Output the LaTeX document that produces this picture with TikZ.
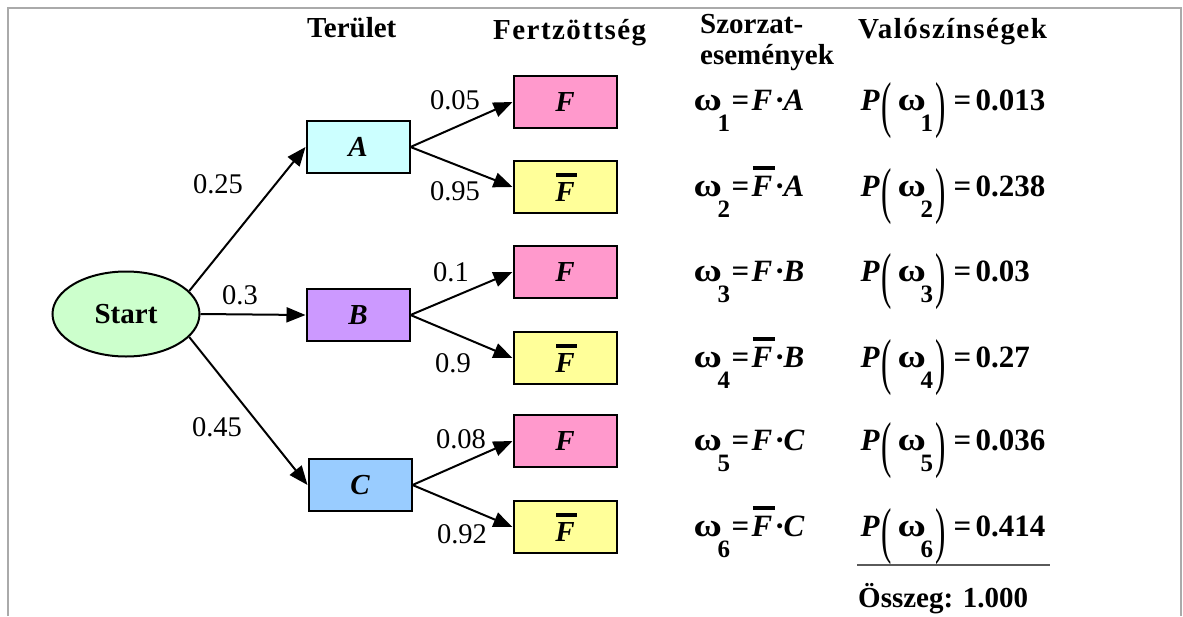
\documentclass[tikz,border=0pt]{standalone}
\usepackage{fontspec}
\setmainfont{Liberation Serif}
\usepackage{graphicx}
\usetikzlibrary{arrows.meta,shapes.geometric}
\definecolor{startc}{RGB}{204,255,204}
\definecolor{ac}{RGB}{204,255,255}
\definecolor{bc}{RGB}{204,153,255}
\definecolor{cc}{RGB}{153,204,255}
\definecolor{fc}{RGB}{255,153,204}
\definecolor{fbc}{RGB}{255,255,153}
\definecolor{framec}{RGB}{170,170,170}
\definecolor{rulec}{RGB}{90,90,90}
\newcommand\Fb{\makebox[0pt][l]{\hspace{0.04em}\rule[0.83em]{0.72em}{0.14em}}\textit{F}}
\newcommand\omg{\scalebox{1.25}[1.05]{ω}}
\newcommand\sub[1]{\raisebox{-21pt}{\fontsize{25}{25}\selectfont #1}}
\newcommand\bp[1]{\raisebox{-15pt}{\mdseries\scalebox{1}[2]{#1}}}
\newcommand\lrow[3]{%
 \rlap{\omg}%
 \rlap{\hspace{24pt}\sub{#1}}%
 \rlap{\hspace{38pt}=}%
 \rlap{\hspace{58pt}#2}%
 \rlap{\hspace{81pt}·}%
 \rlap{\hspace{90pt}\textit{#3}}%
 \hspace{122pt}}
\newcommand\rrow[2]{%
 \rlap{\textit{P}}%
 \rlap{\hspace{21pt}\bp{(}}%
 \rlap{\hspace{37pt}\omg}%
 \rlap{\hspace{60pt}\sub{#1}}%
 \rlap{\hspace{75pt}\bp{)}}%
 \rlap{\hspace{93pt}=}%
 \rlap{\hspace{115pt}#2}%
 \hspace{190pt}}
\tikzset{
  big/.style={font=\fontsize{29}{34}\selectfont\bfseries},
  lab/.style={font=\fontsize{28.5}{32}\selectfont, inner sep=0pt},
  boxn/.style={draw, line width=2pt, minimum width=103pt, minimum height=52pt, inner sep=0pt, font=\fontsize{29}{34}\selectfont\bfseries\itshape},
  conn/.style={line width=2pt, -{Triangle[length=19pt,width=15pt]}},
  txt/.style={anchor=base west, inner sep=0pt, font=\fontsize{29}{34}\selectfont\bfseries},
  frm/.style={anchor=base west, inner sep=0pt, font=\fontsize{31}{34}\selectfont\bfseries},
  sp/.style={font=\fontsize{29}{34}\selectfont\bfseries\addfontfeature{LetterSpace=5}, anchor=base west, inner sep=0pt}
}
\begin{document}
\begin{tikzpicture}[x=1pt,y=-1pt]
\useasboundingbox (0,0) rectangle (1183,616);
\draw[framec, line width=2pt] (7.5,616) -- (7.5,8) -- (1181,8) -- (1181,616);
% headers
\node[txt] (h1) at (307,37) {Terület};
\node[sp] (h2) at (493,39) {Fertzöttség};
\node[txt] (h3a) at (700,33) {Szorzat-};
\node[txt] (h3b) at (700,64) {események};
\node[sp] (h4) at (858,38) {Valószínségek};
% tree nodes
\node[ellipse, draw, line width=2pt, fill=startc, minimum width=147pt, minimum height=85pt, inner sep=0pt, big] (S) at (126,314) {Start};
\node[boxn, fill=ac] (A) at (358,147) {A};
\node[boxn, fill=bc] (B) at (358,315) {B};
\node[boxn, fill=cc] (C) at (360,485) {C};
\node[boxn, fill=fc] (F1) at (565,102) {F};
\node[boxn, fill=fbc] (F2) at (565,187) {\Fb};
\node[boxn, fill=fc] (F3) at (565,272) {F};
\node[boxn, fill=fbc] (F4) at (565,358) {\Fb};
\node[boxn, fill=fc] (F5) at (565,441) {F};
\node[boxn, fill=fbc] (F6) at (565,527) {\Fb};
% connectors
\draw[conn] (S.20) -- (A.west);
\draw[conn] (S.east) -- (B.west);
\draw[conn] (S.-20) -- (C.west);
\draw[conn] (A.east) -- (F1.west);
\draw[conn] (A.east) -- (F2.west);
\draw[conn] (B.east) -- (F3.west);
\draw[conn] (B.east) -- (F4.west);
\draw[conn] (C.east) -- (F5.west);
\draw[conn] (C.east) -- (F6.west);
% edge labels
\node[lab] (l1) at (218,184) {0.25};
\node[lab] (l2) at (240,295) {0.3};
\node[lab] (l3) at (217,427) {0.45};
\node[lab] (l4) at (455,100) {0.05};
\node[lab] (l5) at (455,191) {0.95};
\node[lab] (l6) at (451,272) {0.1};
\node[lab] (l7) at (453,363) {0.9};
\node[lab] (l8) at (461,439) {0.08};
\node[lab] (l9) at (462,534) {0.92};
% formulas
\node[frm] (e1) at (693,110) {\lrow{1}{\textit{F}}{A}};
\node[frm] (e2) at (693,196) {\lrow{2}{\Fb}{A}};
\node[frm] (e3) at (693,281) {\lrow{3}{\textit{F}}{B}};
\node[frm] (e4) at (693,367) {\lrow{4}{\Fb}{B}};
\node[frm] (e5) at (693,450) {\lrow{5}{\textit{F}}{C}};
\node[frm] (e6) at (693,536) {\lrow{6}{\Fb}{C}};
\node[frm] (p1) at (860,110) {\rrow{1}{0.013}};
\node[frm] (p2) at (860,196) {\rrow{2}{0.238}};
\node[frm] (p3) at (860,281) {\rrow{3}{0.03}};
\node[frm] (p4) at (860,367) {\rrow{4}{0.27}};
\node[frm] (p5) at (860,450) {\rrow{5}{0.036}};
\node[frm] (p6) at (860,536) {\rrow{6}{0.414}};
\coordinate (r1) at (857,565);
\coordinate (r2) at (1050,565);
\draw[rulec, line width=1.5pt] (r1) -- (r2);
\node[txt] (sum) at (858,607) {Összeg: 1.000};
\end{tikzpicture}
\end{document}
